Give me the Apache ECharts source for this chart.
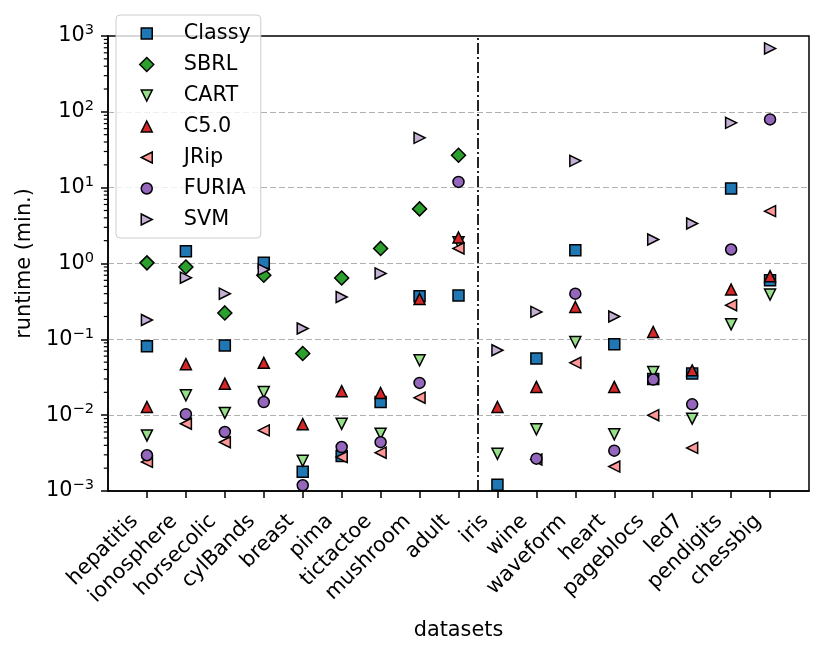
<!DOCTYPE html>
<html>
<head>
<meta charset="utf-8">
<script src="https://cdn.jsdelivr.net/npm/echarts@6/dist/echarts.min.js"></script>
<style>html,body{margin:0;padding:0;background:#fff}#c{width:831px;height:656px}</style>
</head>
<body>
<div id="c"></div>
<script>
const categories = ['hepatitis','ionosphere','horsecolic','cylBands','breast','pima','tictactoe','mushroom','adult','iris','wine','waveform','heart','pageblocs','led7','pendigits','chessbig'];
const splitAfter = 'adult';
const classy = [0.081, 1.45, 0.083, 1.02, 0.0018, 0.0029, 0.0149, 0.37, 0.378, 0.00121, 0.0558, 1.50, 0.086, 0.030, 0.0354, 9.76, 0.60];
const sbrl   = [1.02, 0.90, 0.223, 0.70, 0.065, 0.645, 1.58, 5.25, 26.8, null, null, null, null, null, null, null, null];
const cart   = [0.0054, 0.0183, 0.0107, 0.0202, 0.0025, 0.0077, 0.0057, 0.053, 1.9, 0.0031, 0.0065, 0.092, 0.0056, 0.037, 0.0090, 0.158, 0.39];
const c50    = [0.0128, 0.047, 0.026, 0.049, 0.0076, 0.0207, 0.0196, 0.34, 2.2, 0.0128, 0.0236, 0.267, 0.0236, 0.125, 0.039, 0.454, 0.68];
const jrip   = [0.00242, 0.0077, 0.0044, 0.0063, null, 0.0028, 0.0032, 0.017, 1.58, null, 0.0026, 0.049, 0.0021, 0.0100, 0.0037, 0.282, 4.9];
const furia  = [0.00296, 0.0103, 0.006, 0.0149, 0.00119, 0.0038, 0.0044, 0.0266, 11.9, null, 0.00267, 0.40, 0.0034, 0.0295, 0.0139, 1.53, 79.4];
const svm    = [0.18, 0.65, 0.40, 0.83, 0.139, 0.362, 0.74, 45.4, null, 0.0718, 0.23, 22.6, 0.20, 2.07, 3.37, 71.6, 686];
const yTickExps = [-3, -2, -1, 0, 1, 2, 3];

const FONT = 'DejaVu Sans';
const FS = 20.8;

// legend icons live in a 52x14 box, symbol centred at x=20
const BOX = 'path://M0,0M52,14';
const seriesDefs = [
  {name: 'Classy', data: classy, color: '#1f77b4', symbol: 'rect', size: 11,
   icon: BOX + 'M14.5,1.5L25.5,1.5L25.5,12.5L14.5,12.5Z'},
  {name: 'SBRL', data: sbrl, color: '#2ca02c', symbol: 'diamond', size: 14,
   icon: BOX + 'M20,0L27,7L20,14L13,7Z'},
  {name: 'CART', data: cart, color: '#98df8a', symbol: 'path://M0,0L10,0L5,10Z', size: 11,
   icon: BOX + 'M14.5,1.5L25.5,1.5L20,12.5Z'},
  {name: 'C5.0', data: c50, color: '#d62728', symbol: 'triangle', size: 11,
   icon: BOX + 'M20,1.5L25.5,12.5L14.5,12.5Z'},
  {name: 'JRip', data: jrip, color: '#ff9896', symbol: 'path://M10,0L10,10L0,5Z', size: 11,
   icon: BOX + 'M25.5,1.5L25.5,12.5L14.5,7Z'},
  {name: 'FURIA', data: furia, color: '#9467bd', symbol: 'circle', size: 11,
   icon: BOX + 'M25.5,7A5.5,5.5,0,1,1,14.5,7A5.5,5.5,0,1,1,25.5,7Z'},
  {name: 'SVM', data: svm, color: '#c5b0d5', symbol: 'path://M0,0L10,5L0,10Z', size: 11,
   icon: BOX + 'M14.5,1.5L25.5,7L14.5,12.5Z'}
];

const idx = categories.map((c, i) => i);
const sepX = categories.indexOf(splitAfter) + 0.5;

const minorVals = [];
for (let e = yTickExps[0]; e < yTickExps[yTickExps.length - 1]; e++) {
  for (let m = 2; m <= 9; m++) minorVals.push([-1, m * Math.pow(10, e)]);
}

const series = seriesDefs.map((s, k) => ({
  type: 'scatter',
  name: s.name,
  symbol: s.symbol,
  symbolSize: s.size,
  itemStyle: {color: s.color, borderColor: '#000', borderWidth: 1.5, opacity: 1},
  emphasis: {disabled: true},
  z: 3,
  data: s.data.map((v, i) => (v == null ? null : [i, v])).filter(d => d),
  markLine: k === 0 ? {
    silent: true, symbol: 'none', label: {show: false},
    lineStyle: {color: '#000', width: 1.7, type: [11, 3, 2, 3]},
    data: [{xAxis: sepX}], z: 2
  } : undefined
}));

series.push({
  type: 'custom',
  name: 'minor',
  silent: true,
  clip: false,
  data: minorVals,
  renderItem: function (params, api) {
    const p = api.coord([api.value(0), api.value(1)]);
    return {type: 'line', shape: {x1: p[0], y1: p[1], x2: p[0] - 4.2, y2: p[1]},
            style: {stroke: '#000', lineWidth: 1.2}};
  },
  z: 5
});

const option = {
  animation: false,
  backgroundColor: '#fff',
  textStyle: {fontFamily: FONT, color: '#000'},
  grid: {left: 108, right: 22, top: 36, bottom: 165, show: true,
         borderColor: '#000', borderWidth: 1.5, backgroundColor: 'transparent',
         containLabel: false, outerBoundsMode: 'none'},
  legend: {
    orient: 'vertical', left: 116, top: 15,
    padding: [8, 10, 8, 10],
    itemWidth: 52, itemHeight: 14, itemGap: 10,
    symbolKeepAspect: true,
    backgroundColor: 'rgba(255,255,255,0.8)',
    borderColor: '#cccccc', borderWidth: 1, borderRadius: 4,
    textStyle: {fontFamily: FONT, fontSize: FS, color: '#000', lineHeight: 20},
    data: seriesDefs.map(s => ({name: s.name, icon: s.icon,
      itemStyle: {color: s.color, borderColor: '#000', borderWidth: 1.5}})),
    selectedMode: false,
    z: 10
  },
  xAxis: {
    type: 'value', min: -1, max: 17, interval: 1,
    name: 'datasets', nameLocation: 'middle', nameGap: 129,
    nameTextStyle: {fontFamily: FONT, fontSize: FS, color: '#000'},
    axisLine: {show: true, onZero: false, lineStyle: {color: '#000', width: 1.5}},
    axisTick: {show: true, length: 7, customValues: idx, lineStyle: {color: '#000', width: 1.5}},
    axisLabel: {
      customValues: idx, rotate: 45, margin: 15, padding: [0, 17, 0, 0],
      fontFamily: FONT, fontSize: FS, color: '#000',
      formatter: v => categories[Math.round(v)] || ''
    },
    splitLine: {show: false}
  },
  yAxis: {
    type: 'log', logBase: 10, min: Math.pow(10, yTickExps[0]), max: Math.pow(10, yTickExps[yTickExps.length - 1]),
    splitNumber: 6,
    name: 'runtime (min.)', nameLocation: 'middle', nameGap: 72,
    nameTextStyle: {fontFamily: FONT, fontSize: FS, color: '#000'},
    axisLine: {show: true, onZero: false, lineStyle: {color: '#000', width: 1.5}},
    axisTick: {show: true, length: 7, lineStyle: {color: '#000', width: 1.5}},
    minorTick: {show: false},
    axisLabel: {
      margin: 14, fontFamily: FONT, fontSize: FS, color: '#000', lineHeight: 26,
      formatter: function (v) {
        const e = Math.round(Math.log10(v));
        return '10{sup|' + (e < 0 ? '\u2212' + (-e) : e) + '}';
      },
      rich: {sup: {fontFamily: FONT, fontSize: 14.6, lineHeight: 14, verticalAlign: 'top', color: '#000'}}
    },
    splitLine: {show: true, showMinLine: false, showMaxLine: false,
                lineStyle: {color: '#b0b0b0', width: 1.2, type: [6, 3]}}
  },
  series: series
};

const chart = echarts.init(document.getElementById('c'), null, {renderer: 'canvas'});
chart.setOption(option);
</script>
</body>
</html>
